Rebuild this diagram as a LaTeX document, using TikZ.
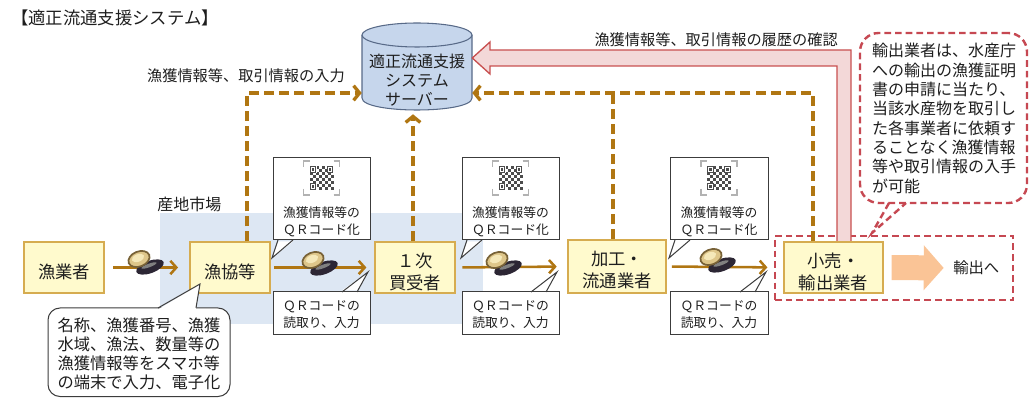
\documentclass[tikz,border=0pt]{standalone}
\usepackage{fontspec}
\setmainfont{Noto Sans CJK JP}
\usetikzlibrary{arrows.meta,fit,calc}
\newcommand\fsz[2]{\fontsize{#1}{#2}\selectfont}

\definecolor{txt}{RGB}{30,30,30}
\definecolor{brn}{RGB}{176,118,18}
\definecolor{boxfill}{RGB}{255,250,205}
\definecolor{boxline}{RGB}{214,172,80}
\definecolor{market}{RGB}{221,231,243}
\definecolor{srvfill}{RGB}{198,214,236}
\definecolor{srvline}{RGB}{88,106,136}
\definecolor{pinkfill}{RGB}{243,216,216}
\definecolor{pinkline}{RGB}{200,80,80}
\definecolor{reddash}{RGB}{198,72,82}
\definecolor{exparrow}{RGB}{250,196,150}
\definecolor{callline}{RGB}{60,60,60}
\definecolor{shelltan}{RGB}{222,198,138}
\definecolor{shelllight}{RGB}{245,232,185}
\definecolor{shellrim}{RGB}{120,98,55}
\definecolor{shelldark}{RGB}{44,38,52}

\tikzset{
  actor/.style={draw=boxline, fill=boxfill, line width=0.9pt, inner sep=0pt},
  actortext/.style={align=center, font=\fsz{13}{16.5}, text=txt, inner sep=0pt},
  flow/.style={draw=brn, line width=1.9pt, -{Straight Barb[length=4.5pt,width=10pt]}},
  dashline/.style={draw=brn, line width=2.5pt, dash pattern=on 7.5pt off 3.8pt},
  dashflow/.style={dashline, -{Straight Barb[length=4.5pt,width=11pt]}},
  note/.style={draw=callline, fill=white, line width=0.75pt},
  notetext/.style={align=center, font=\fsz{9.6}{12.7}, text=txt, inner sep=0pt},
  bigtext/.style={align=left, font=\fsz{12.2}{14.3}, text=txt, inner sep=0pt},
  lbl/.style={font=\fsz{11.4}{13}, text=txt, inner sep=0pt},
  reddashed/.style={draw=reddash, line width=1.8pt, dash pattern=on 5pt off 3pt},
  band/.style={fill=pinkfill, draw=pinkline, line width=1pt},
  exportflow/.style={draw=exparrow, line width=18.75pt, -{Triangle[length=15pt,width=33pt]}},
  qrbr/.style={draw=gray!60, line width=0.9pt},
  qrdot/.style={fill=black!70},
  abalone/.pic={
    \fill[shelldark, rotate=20] (0,0) ellipse[x radius=14.5, y radius=6.2];
    \fill[black!50, shift={(-1,-1.5)}, rotate=20] (0,0) ellipse[x radius=8, y radius=1.8];
    \filldraw[fill=shelltan, draw=shellrim, line width=1.3pt, shift={(-11,-8)}, rotate=22]
      (0,0) ellipse[x radius=11, y radius=7.5];
    \fill[shelllight, shift={(-12,-9)}, rotate=22] (0,0) ellipse[x radius=6.5, y radius=3.8];
  },
  qrcode/.pic={
    \draw[qrbr] (-18,-11) -- (-18,-17) -- (-12,-17);
    \draw[qrbr] (12,-17) -- (18,-17) -- (18,-11);
    \draw[qrbr] (-18,11) -- (-18,17) -- (-12,17);
    \draw[qrbr] (12,17) -- (18,17) -- (18,11);
    \foreach \i in {0,...,7}{\foreach \j in {0,...,7}{
      \pgfmathtruncatemacro\v{mod(\i+\j,2)}
      \ifnum\v=0 \fill[qrdot] (-12+3*\i,-12+3*\j) rectangle ++(3,3);\fi}}
    \foreach \a/\b in {-12/-12, 5/-12, -12/5}{
      \fill[white] (\a,\b) rectangle ++(7,7);
      \draw[black!70, line width=0.7pt] (\a+0.6,\b+0.6) rectangle ++(5.8,5.8);
      \fill[black!70] (\a+2.2,\b+2.2) rectangle ++(2.6,2.6);}
  },
}

\begin{document}
\begin{tikzpicture}[x=0.75pt,y=-0.75pt]
\useasboundingbox (0,0) rectangle (1030,398);

% landing market area
\fill[market] (160,213) rectangle (483,324);
\node[anchor=west, font=\fsz{12}{14}, text=txt, inner sep=0pt] (mkt) at (157,204) {産地市場};

% title
\node[anchor=west, font=\fsz{13}{15}, text=txt, inner sep=0pt] (title) at (11,18) {【適正流通支援システム】};

% server cylinder
\node[fit={(362,23)(472,110)}, inner sep=0pt] (server) {};
\filldraw[fill=srvfill, draw=srvline, line width=0.8pt]
  (362,35) -- (362,98) .. controls (362,114) and (472,114) .. (472,98) -- (472,35);
\filldraw[fill=srvfill, draw=srvline, line width=0.8pt] (417,35) ellipse[x radius=55, y radius=12];
\node[align=center, font=\fsz{12}{14}, text=txt, inner sep=0pt] (servertext) at (417,80)
  {適正流通支援\\システム\\サーバー};

% export zone
\node[fit={(775,236)(1013,300)}, reddashed, inner sep=0pt] (expzone) {};

% actors
\node[actor, fit={(24,242)(104,293)}] (gyo) {};
\node[actor, fit={(190,242)(270,293)}] (kyo) {};
\node[actor, fit={(375,242)(455,293)}] (kai) {};
\node[actor, fit={(568,240)(666,293)}] (kako) {};

% history check band, from the exporter up to the server
\coordinate (bandfoot) at (844,242);
\filldraw[band] (bandfoot -| 837,0) -- (837,66) -- (490,66) -- (490,74)
  -- (server.east |- 0,58) -- (490,42) -- (490,50) -- (851,50) -- (bandfoot -| 851,0);

\node[actor, fit={(784,242)(883,293)}] (kouri) {};

\node[actortext] (gyotext) at ([yshift=-3pt]gyo.center) {漁業者};
\node[actortext] (kyotext) at ([yshift=-3pt]kyo.center) {漁協等};
\node[actortext] (kaitext) at ([yshift=-3pt]kai.center) {１次\\買受者};
\node[actortext] (kakotext) at ([yshift=-3pt]kako.center) {加工・\\流通業者};
\node[actortext] (kouritext) at ([yshift=-3pt]kouri.center) {小売・\\輸出業者};

% input flows to the server
\draw[dashflow] (kyo.north -| 247,0) |- (server.west |- 0,93);
\draw[dashflow, shorten >=3pt] (kai.north -| 413,0) -- (server.south -| 413,0);
\draw[dashflow] (kouri.north -| 813,0) |- (server.east |- 0,93);
\draw[dashline] (kako.north -| 613,0) -- (613,93);

\node[lbl, anchor=east] (inlabel) at (345,76) {漁獲情報等、取引情報の入力};
\node[lbl, anchor=east] (histlabel) at (838,40) {漁獲情報等、取引情報の履歴の確認};

% product flow
\draw[flow, shorten <=6.5pt, shorten >=8.5pt] (gyo.east) -- (kyo.west);
\draw[flow, shorten <=2.5pt, shorten >=6pt] (kyo.east) -- (kai.west);
\draw[flow, shorten <=5pt, shorten >=8pt] (kai.east) -- (kako.west);
\draw[flow, shorten <=4pt, shorten >=12pt] (kako.east) -- (kouri.west);

\pic at (150,267) {abalone};
\pic at (324,268) {abalone};
\pic at (508,268) {abalone};
\pic at (722,265) {abalone};

% export
\node[anchor=west, font=\fsz{11.5}{13}, text=txt, inner sep=0pt] (export) at (953,268) {輸出へ};
\draw[exportflow, shorten <=6pt, shorten >=7pt] (kouri.east) -- (export.west);

% QR code notes
\foreach \nm/\l/\r in {qa/273/370, qb/462/559, qc/670/768}{
  \pgfmathsetmacro\cx{(\l+\r)/2}
  \node[fit={(\l,158)(\r,240)}, note, inner sep=0pt] (\nm top) {};
  \fill[white] (\l+5,241.5) -- (\l-1,258) -- (\l+20,241.5) -- cycle;
  \draw[callline, line width=0.75pt] (\l+5,240) -- (\l-1,258) -- (\l+20,240);
  \pic at (\cx,178) {qrcode};
  \node[notetext] (\nm toptext) at (\cx,222) {漁獲情報等の\\ＱＲコード化};
  \node[fit={(\l,292)(\r,335)}, note, inner sep=0pt] (\nm bot) {};
  \fill[white] (\r-28,290.5) -- (\r-2,272) -- (\r-13,290.5) -- cycle;
  \draw[callline, line width=0.75pt] (\r-28,292) -- (\r-2,272) -- (\r-13,292);
  \node[notetext] (\nm bottext) at (\cx,315) {ＱＲコードの\\読取り、入力};
}

% fishermen's input note
\node[fit={(48,308)(230,396.5)}, note, rounded corners=9pt, inner sep=0pt] (memo) {};
\fill[white] (158,309.5) -- (200,284) -- (196,309.5) -- cycle;
\draw[callline, line width=0.75pt] (158,308) -- (200,284) -- (196,308);
\node[bigtext] (memotext) at (139,354)
  {名称、漁獲番号、漁獲\\水域、漁法、数量等の\\漁獲情報等をスマホ等\\の端末で入力、電子化};

% exporter note
\node[fit={(860,33)(1027,203)}, reddashed, fill=white, rounded corners=14pt, inner sep=0pt] (exnote) {};
\fill[white] (889,205) -- (872,233) -- (906,205) -- cycle;
\draw[reddashed] (889,203) -- (872,233) -- (906,203);
\node[bigtext, font=\fsz{12}{14.5}] (exnotetext) at (944,118.5)
  {輸出業者は、水産庁\\への輸出の漁獲証明\\書の申請に当たり、\\当該水産物を取引し\\た各事業者に依頼す\\ることなく漁獲情報\\等や取引情報の入手\\が可能};
\end{tikzpicture}
\end{document}
